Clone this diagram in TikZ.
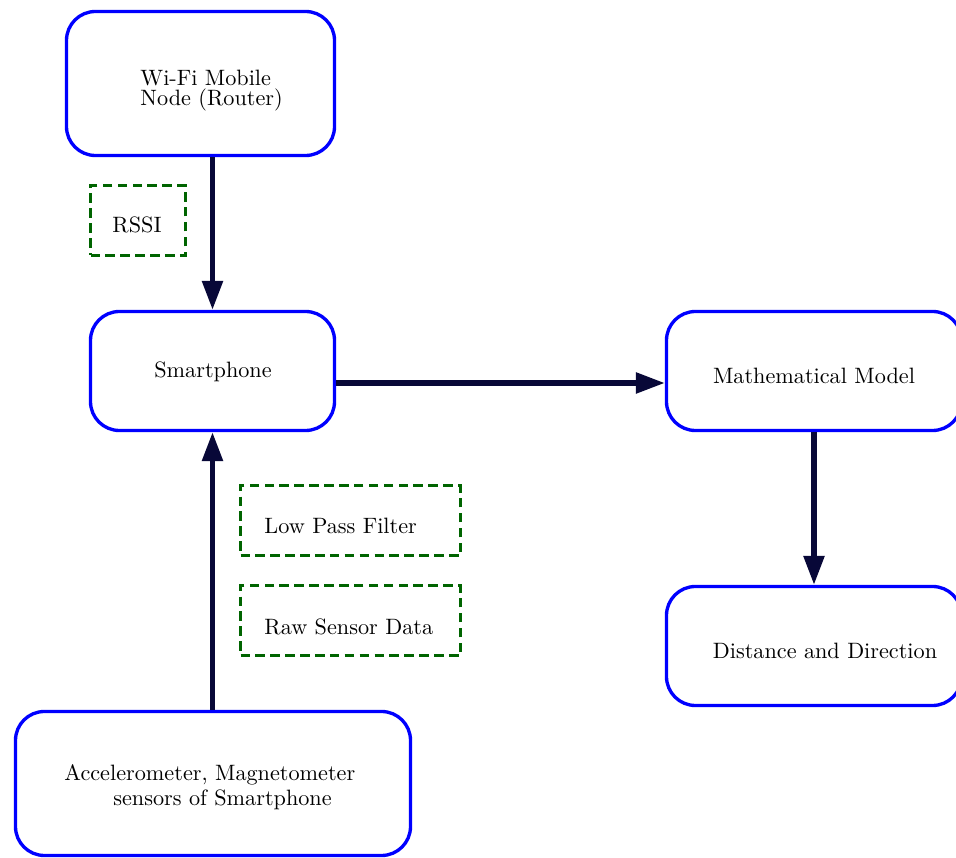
\documentclass[tikz,border=0pt]{standalone}
\usetikzlibrary{arrows.meta}
\definecolor{boxblue}{RGB}{0,0,255}
\definecolor{dgreen}{RGB}{0,100,0}
\definecolor{arrc}{RGB}{8,8,56}
\begin{document}
\begin{tikzpicture}[x=0.45pt,y=-0.45pt,
  box/.style={draw=boxblue, line width=1.5pt, rounded corners=13pt, inner sep=0pt},
  dbox/.style={draw=dgreen, line width=1.5pt, dash pattern=on 4.3pt off 2.4pt, inner sep=0pt, minimum height=31.5pt},
  txt/.style={inner sep=0pt, font=\fontsize{10}{12}\selectfont},
  arr/.style={draw=arrc, line width=2.4pt, -{Triangle[length=13pt,width=9pt]}}]
\fill[white] (0,0) rectangle (956,858);
\useasboundingbox (0,0) rectangle (956,858);
% boxes
\node[box, minimum width=120.6pt, minimum height=64.8pt] (wifi) at (200.5,83.5) {};
\node[box, minimum width=109.8pt, minimum height=53.55pt] (sp) at (212.5,371) {};
\node[box, minimum width=132.75pt, minimum height=53.55pt] (math) at (814,371) {};
\node[box, minimum width=132.75pt, minimum height=53.55pt] (dist) at (814,646) {};
\node[box, minimum width=177.75pt, minimum height=64.8pt] (acc) at (213,783.5) {};
\node[dbox, minimum width=42.75pt] (rssi) at (138,220.5) {};
\node[dbox, minimum width=99pt] (lpf) at (350.5,520.5) {};
\node[dbox, minimum width=99pt] (raw) at (350.5,620.5) {};
% texts
\node[txt, align=left, anchor=west] (wifiT) at (140,91) {Wi-Fi Mobile\\[-3pt]Node (Router)};
\node[txt] (rssiT) at (137,225) {RSSI};
\node[txt] (spT) at (213,372) {Smartphone};
\node[txt] (mathT) at (814,376) {Mathematical Model};
\node[txt, anchor=west] (lpfT) at (264,526) {Low Pass Filter};
\node[txt, anchor=west] (rawT) at (264,627) {Raw Sensor Data};
\node[txt] (distT) at (825,651) {Distance and Direction};
\node[txt, align=left, anchor=west] (accT) at (64,787) {Accelerometer, Magnetometer\\[-0.75pt]\hspace*{22pt}sensors of Smartphone};
% arrows
\draw[arr] (wifi.south -| sp.north) -- (sp.north);
\draw[arr] (acc.north -| sp.south) -- (sp.south);
\draw[arr] ([yshift=-5.4pt]sp.east) -- ([yshift=-5.4pt]math.west);
\draw[arr] (math.south) -- (dist.north);
\end{tikzpicture}
\end{document}
